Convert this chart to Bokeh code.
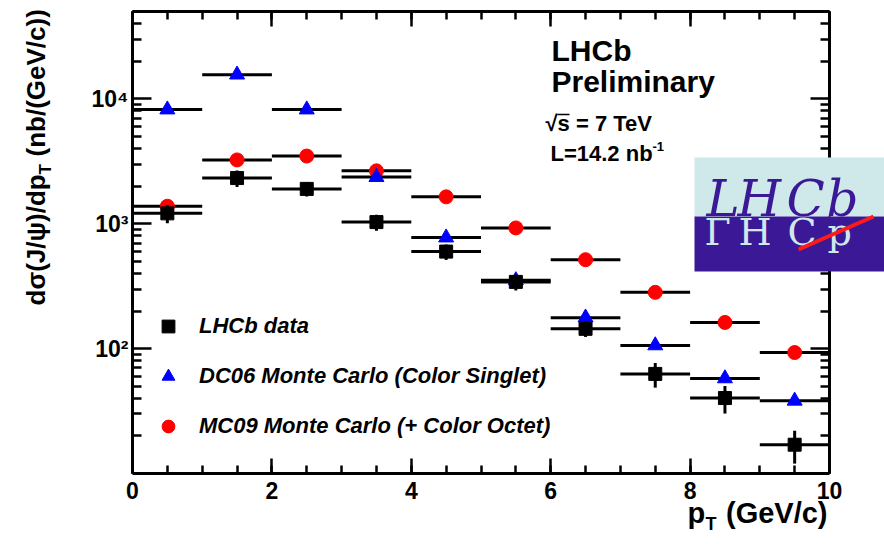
import math
from bokeh.plotting import figure
from bokeh.models import (ColumnDataSource, LinearAxis, LogAxis, SingleIntervalTicker,
                          FixedTicker, BasicTickFormatter, Legend, LegendItem, Label,
                          BoxAnnotation, Arrow, Range1d)
from bokeh.embed import file_html
from bokeh.resources import INLINE

# J/psi differential cross-section per pT bin (nb/(GeV/c))
bin_lo = [0, 1, 2, 3, 4, 5, 6, 7, 8, 9]
bin_hi = [1, 2, 3, 4, 5, 6, 7, 8, 9, 10]
pt_mid = [0.5, 1.5, 2.5, 3.5, 4.5, 5.5, 6.5, 7.5, 8.5, 9.5]
lhcb_data = [1210, 2320, 1900, 1030, 598, 342, 144, 62.7, 40.2, 17.0]
lhcb_err = [200, 350, 250, 150, 85, 50, 20, 14, 10, 5]
dc06_mc = [8200, 15600, 8200, 2360, 774, 352, 177, 106, 57.7, 38.2]
mc09_mc = [1380, 3240, 3480, 2650, 1640, 925, 515, 282, 162, 93]

y_major = [100, 1000, 10000]
y_minor = [20, 30, 40, 50, 60, 70, 80, 90,
           200, 300, 400, 500, 600, 700, 800, 900,
           2000, 3000, 4000, 5000, 6000, 7000, 8000, 9000,
           20000, 30000, 40000, 50000]
y_labels = {100: "10²", 1000: "10³", 10000: "10⁴"}

FONT = "Liberation Sans"
W, H = 884, 544

# pixel box of the axes frame; the plotting area spans the whole canvas so
# that the titles and the logo outside the frame are not clipped
FL, FR, FT, FB = 132, 829, 11, 473
X0, X1, Y0, Y1 = 0.0, 10.0, 10.0, 5e4


def px2x(px):
    return X0 + (px - FL) * (X1 - X0) / (FR - FL)


def py2y(py):
    lo, hi = math.log10(Y0), math.log10(Y1)
    return 10 ** (lo + (FB - py) * (hi - lo) / (FB - FT))


p = figure(width=W, height=H, x_range=Range1d(px2x(0), px2x(W)),
           y_range=Range1d(py2y(H), py2y(0)), y_axis_type="log",
           x_axis_location=None, y_axis_location=None,
           output_backend="svg", toolbar_location=None, min_border=0)
p.grid.visible = False
p.outline_line_color = None
p.background_fill_color = "white"
p.border_fill_color = "white"


def style_axis(ax, maj, mnr, labels=True):
    ax.axis_line_width = 3
    ax.major_tick_line_width = 2.5
    ax.minor_tick_line_width = 2.5
    ax.major_tick_in = maj
    ax.major_tick_out = 0
    ax.minor_tick_in = mnr
    ax.minor_tick_out = 0
    if labels:
        ax.major_label_text_font = FONT
        ax.major_label_text_font_style = "bold"
        ax.major_label_text_font_size = "23px"
        ax.major_label_text_color = "black"
    else:
        ax.major_label_text_font_size = "1px"
        ax.major_label_text_color = None
        ax.major_label_standoff = 0


# ---- axes drawn along the frame edges ---------------------------------
xb = LinearAxis(ticker=SingleIntervalTicker(interval=2, num_minor_ticks=4),
                fixed_location=Y0, bounds=(X0, X1))
style_axis(xb, 15, 8)
xb.major_label_standoff = 8
p.add_layout(xb, "below")

yl = LogAxis(ticker=FixedTicker(ticks=y_major, minor_ticks=y_minor),
             formatter=BasicTickFormatter(), fixed_location=X0, bounds=(Y0, Y1))
yl.major_label_overrides = y_labels
style_axis(yl, 19, 9)
yl.major_label_standoff = 4
p.add_layout(yl, "left")

xt = LinearAxis(ticker=SingleIntervalTicker(interval=2, num_minor_ticks=4),
                fixed_location=Y1, bounds=(X0, X1))
style_axis(xt, 15, 8, labels=False)
p.add_layout(xt, "above")

yr = LogAxis(ticker=FixedTicker(ticks=y_major, minor_ticks=y_minor),
             formatter=BasicTickFormatter(), fixed_location=X1, bounds=(Y0, Y1))
style_axis(yr, 19, 9, labels=False)
p.add_layout(yr, "right")

# ---- data -------------------------------------------------------------
src = ColumnDataSource(dict(
    lo=bin_lo, hi=bin_hi, x=pt_mid,
    data=lhcb_data,
    dlo=[v - e for v, e in zip(lhcb_data, lhcb_err)],
    dhi=[v + e for v, e in zip(lhcb_data, lhcb_err)],
    dc06=dc06_mc, mc09=mc09_mc))

# MC09 (+ colour octet)
p.segment(x0="lo", x1="hi", y0="mc09", y1="mc09", source=src, line_color="black", line_width=3)
circ = p.scatter(x="x", y="mc09", source=src, marker="circle", size=14,
                 fill_color="#ff0000", line_color="#ff0000")
# DC06 (colour singlet)
p.segment(x0="lo", x1="hi", y0="dc06", y1="dc06", source=src, line_color="black", line_width=3)
tri = p.scatter(x="x", y="dc06", source=src, marker="triangle", size=15,
                fill_color="#0000ff", line_color="#0000ff")
# LHCb measurement
p.segment(x0="lo", x1="hi", y0="data", y1="data", source=src, line_color="black", line_width=3)
p.segment(x0="x", x1="x", y0="dlo", y1="dhi", source=src, line_color="black", line_width=3)
sq = p.scatter(x="x", y="data", source=src, marker="square", size=13,
               fill_color="black", line_color="black")

# ---- legend -----------------------------------------------------------
legend = Legend(items=[LegendItem(label="LHCb data", renderers=[sq]),
                       LegendItem(label="DC06 Monte Carlo (Color Singlet)", renderers=[tri]),
                       LegendItem(label="MC09 Monte Carlo (+ Color Octet)", renderers=[circ])],
                location=(152, H - 442), glyph_width=32, glyph_height=32, spacing=18,
                label_standoff=15, padding=0, margin=0, border_line_color=None,
                background_fill_alpha=0, label_text_font=FONT,
                label_text_font_style="bold italic", label_text_font_size="22px",
                label_text_color="black")
p.add_layout(legend)


def lab(text, px, py, size, style="bold", font=FONT, color="black", align="left",
        angle=0.0):
    # (px, py) is the wanted baseline start; labels sit about a third of an
    # em below their anchor, so lift them by that amount
    lift = 0.32 * size
    if angle:
        px -= lift
    else:
        py -= lift
    p.add_layout(Label(x=px2x(px), y=py2y(py), text=text, text_font=font,
                       text_font_style=style, text_font_size=f"{size}px",
                       text_color=color, text_align=align, text_baseline="alphabetic",
                       angle=angle))


def rule(x0, y0, x1, y1, color, width):
    p.add_layout(Arrow(x_start=px2x(x0), y_start=py2y(y0), x_end=px2x(x1), y_end=py2y(y1),
                       end=None, line_color=color, line_width=width))


# ---- axis titles ------------------------------------------------------
lab("p", 687, 522, 29)
lab("T", 705, 529, 18)
lab("(GeV/c)", 827, 522, 29, align="right")

lab("dσ(J/ψ)/dp", 44, 305, 26, angle=math.pi / 2)
lab("T", 50, 305 - 131, 17, angle=math.pi / 2)
lab("(nb/(GeV/c))", 44, 305 - 131 - 18, 26, angle=math.pi / 2)

# ---- experiment tag ---------------------------------------------------
lab("LHCb", 551, 60, 30)
lab("Preliminary", 551, 91, 30)
lab("√s = 7 TeV", 545, 130, 22)
rule(557, 114, 569, 114, "black", 1.5)
lab("L=14.2 nb", 550, 160, 22)
lab("-1", 652, 150, 13)

# ---- LHCb logo --------------------------------------------------------
LIGHT, DARK = "#cfe8ea", "#3a1896"
p.add_layout(BoxAnnotation(left=px2x(694), right=px2x(W), top=py2y(157), bottom=py2y(216),
                           fill_color=LIGHT, fill_alpha=1, line_color=None))
p.add_layout(BoxAnnotation(left=px2x(694), right=px2x(W), top=py2y(216), bottom=py2y(271),
                           fill_color=DARK, fill_alpha=1, line_color=None))
for ch, x in (("L", 706), ("H", 737), ("C", 786), ("b", 826)):
    lab(ch, x, 214, 50, style="italic", font="DejaVu Serif", color=DARK)
for ch, x in (("Γ", 704), ("H", 738), ("C", 787), ("p", 827)):
    lab(ch, x, 244, 38, style="normal", font="DejaVu Serif", color=LIGHT)
rule(798, 249, 873, 216, "#ff1a1a", 4)

open("out.html", "w").write(file_html(p, INLINE))
